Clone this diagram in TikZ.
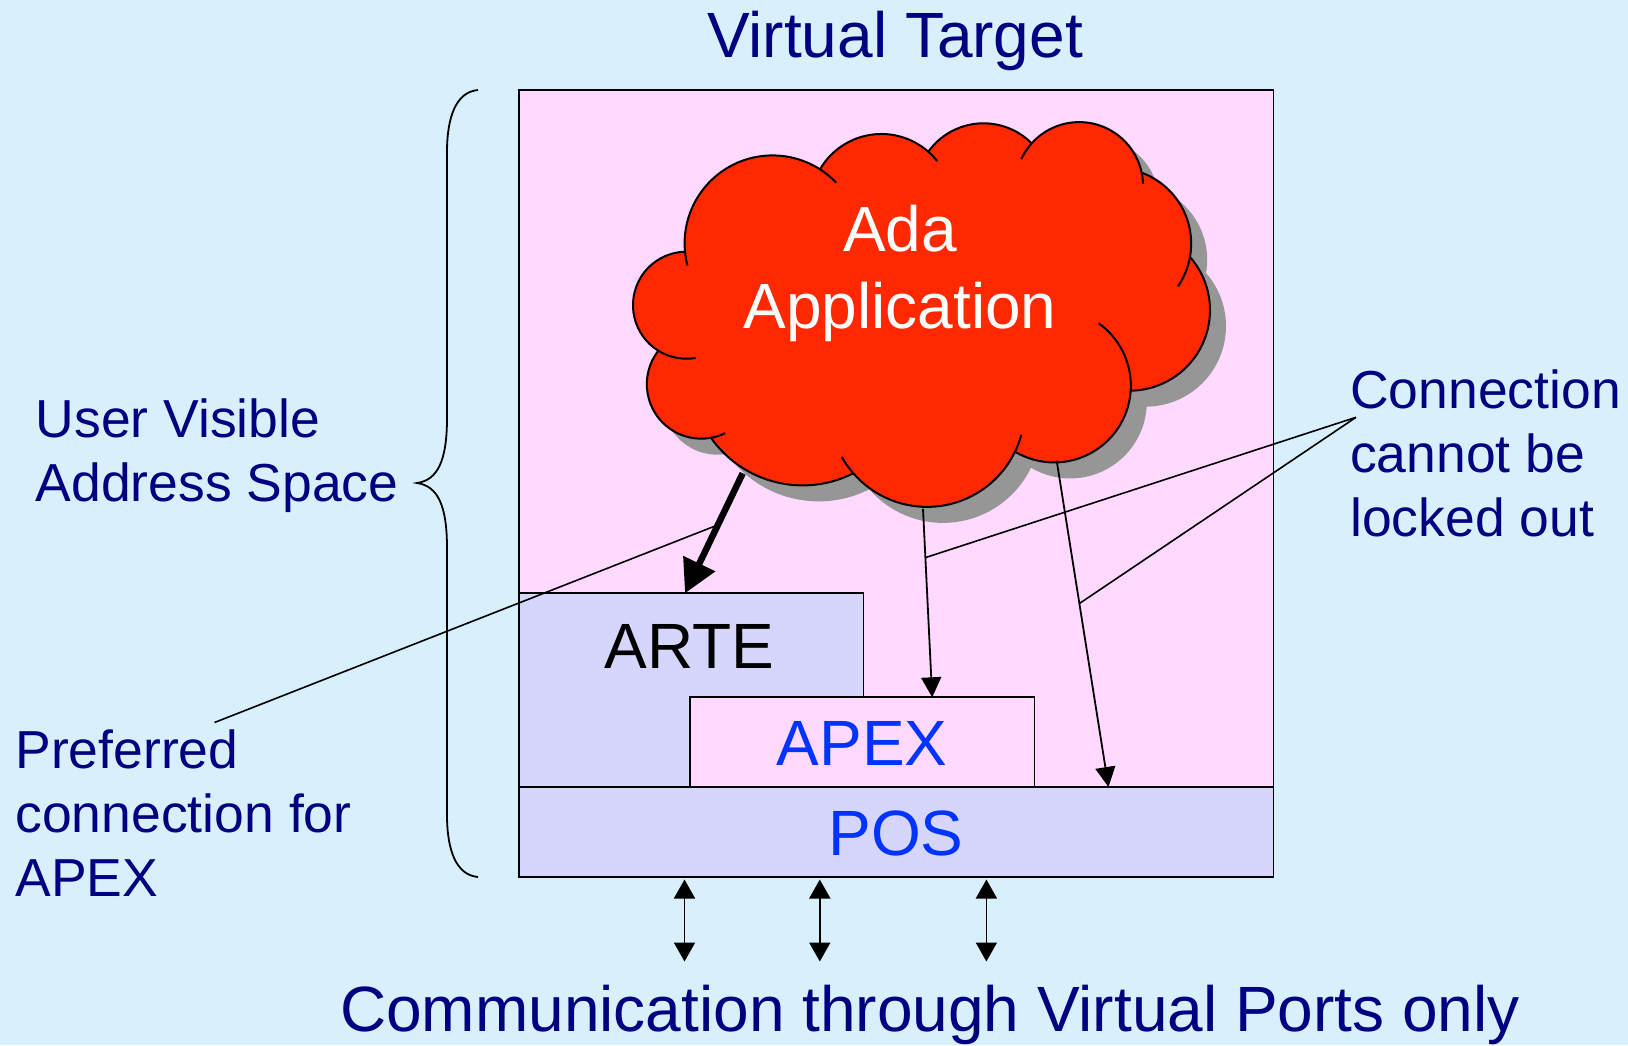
\documentclass[tikz,border=0pt]{standalone}
\usepackage{fontspec}
\setmainfont{Liberation Sans}
\usetikzlibrary{arrows.meta,calc}
\definecolor{bgc}{RGB}{215,240,252}
\definecolor{pinkc}{RGB}{255,217,255}
\definecolor{lavc}{RGB}{214,214,252}
\definecolor{redc}{RGB}{255,40,0}
\definecolor{navyc}{RGB}{0,0,128}
\definecolor{bluec}{RGB}{0,51,255}
\definecolor{shadc}{RGB}{150,150,150}

% circle through three points A=(#2,#3), M=(#4,#5), B=(#6,#7); arc from A to B (clockwise on screen)
\newcommand{\defbump}[7]{%
  \edef\bD{\fpeval{2*((#2)*((#5)-(#7))+(#4)*((#7)-(#3))+(#6)*((#3)-(#5)))}}%
  \edef\bUx{\fpeval{(((#2)^2+(#3)^2)*((#5)-(#7))+((#4)^2+(#5)^2)*((#7)-(#3))+((#6)^2+(#7)^2)*((#3)-(#5)))/\bD}}%
  \edef\bUy{\fpeval{(((#2)^2+(#3)^2)*((#6)-(#4))+((#4)^2+(#5)^2)*((#2)-(#6))+((#6)^2+(#7)^2)*((#4)-(#2)))/\bD}}%
  \expandafter\xdef\csname bump#1r\endcsname{\fpeval{round(sqrt(((#2)-\bUx)^2+((#3)-\bUy)^2),3)}}%
  \edef\bS{\fpeval{atand((#3)-\bUy,(#2)-\bUx)}}%
  \edef\bE{\fpeval{atand((#7)-\bUy,(#6)-\bUx)}}%
  \expandafter\xdef\csname bump#1s\endcsname{\fpeval{round(\bS,3)}}%
  \expandafter\xdef\csname bump#1e\endcsname{\fpeval{round((\bE<\bS) ? \bE+360 : \bE,3)}}%
}
% cusps
\defbump{TL}{685}{251.7}{726.7}{168.3}{820}{169.3}
\defbump{TMA}{820}{169.3}{883.3}{134}{928.3}{151.7}
\defbump{TMB}{928.3}{151.7}{981.7}{123.3}{1031.7}{143.3}
\defbump{TR}{1031.7}{143.3}{1106.7}{128.3}{1141.7}{172.7}
\defbump{RU}{1141.7}{172.7}{1183.3}{210}{1190}{257}
\defbump{RL}{1190}{257}{1209}{323}{1130.7}{390.7}
\defbump{LR}{1130.7}{390.7}{1093.3}{451.7}{1015}{451.7}
\defbump{BM}{1015}{451.7}{953.3}{503.3}{853.3}{473.3}
\defbump{BL}{853.3}{473.3}{793.3}{485}{711}{437.8}
\defbump{LL}{711}{437.8}{653.3}{410}{658.3}{350.7}
\defbump{LU}{658.3}{350.7}{633}{306.7}{685}{251.7}

\newcommand{\cloudoutline}{%
(685,251.7)
arc[start angle=\bumpTLs, end angle=\bumpTLe, radius=\bumpTLr]
arc[start angle=\bumpTMAs, end angle=\bumpTMAe, radius=\bumpTMAr]
arc[start angle=\bumpTMBs, end angle=\bumpTMBe, radius=\bumpTMBr]
arc[start angle=\bumpTRs, end angle=\bumpTRe, radius=\bumpTRr]
arc[start angle=\bumpRUs, end angle=\bumpRUe, radius=\bumpRUr]
arc[start angle=\bumpRLs, end angle=\bumpRLe, radius=\bumpRLr]
arc[start angle=\bumpLRs, end angle=\bumpLRe, radius=\bumpLRr]
arc[start angle=\bumpBMs, end angle=\bumpBMe, radius=\bumpBMr]
arc[start angle=\bumpBLs, end angle=\bumpBLe, radius=\bumpBLr]
arc[start angle=\bumpLLs, end angle=\bumpLLe, radius=\bumpLLr]
arc[start angle=\bumpLUs, end angle=\bumpLUe, radius=\bumpLUr]
-- cycle}

\begin{document}
\begin{tikzpicture}[x=1pt,y=-1pt,
  box/.style={draw=black, line width=1.8pt, inner sep=0pt, outer sep=0pt, anchor=north west},
  big/.style={font=\fontsize{64}{76.8}\selectfont, inner sep=0pt},
  side/.style={font=\fontsize{53.5}{64}\selectfont, text=navyc, align=left, inner sep=0pt},
  thinarrow/.style={line width=1.8pt, -{Triangle[length=20pt,width=20pt]}},
  dblarrow/.style={line width=1.8pt, {Triangle[length=19pt,width=21pt]}-{Triangle[length=19pt,width=21pt]}},
  callout/.style={line width=1.6pt},
  cloudline/.style={line width=2pt, line join=round},
]
\useasboundingbox (0,0) rectangle (1628,1045);
\fill[bgc] (0,0) rectangle (1628,1045);

% boxes
\node[box, fill=pinkc, minimum width=754.5pt, minimum height=787pt] (vt) at (519,90) {};
\node[box, fill=lavc, minimum width=344.5pt, minimum height=193.7pt] (arte) at (519,593.3) {};
\node[box, fill=pinkc, minimum width=344.5pt, minimum height=89.7pt] (apex) at (690,697.3) {};
\node[box, fill=lavc, minimum width=754.5pt, minimum height=90pt] (pos) at (519,787) {};

\node[big, anchor=base] (artel) at (689.5,668.5) {ARTE};
\node[big, text=bluec, anchor=base] (apexl) at (862.2,765.7) {APEX};
\node[big, text=bluec, anchor=base] (posl) at (896,855) {POS};

% cloud
\coordinate (C1) at (685,251.7);
\coordinate (C2) at (820,169.3);
\coordinate (C3) at (928.3,151.7);
\coordinate (C4) at (1031.7,143.3);
\coordinate (C5) at (1141.7,172.7);
\coordinate (C6) at (1190,257);
\coordinate (C7) at (1130.7,390.7);
\coordinate (C8) at (1015,451.7);
\coordinate (C9) at (853.3,473.3);
\coordinate (C10) at (711,437.8);
\coordinate (C11) at (658.3,350.7);
\fill[shadc, shift={(16,16)}] \cloudoutline;
\filldraw[fill=redc, draw=black, cloudline] \cloudoutline;
\draw[cloudline] (C1) arc[start angle=\bumpTLs, delta angle={-57.3*14/\bumpTLr}, radius=\bumpTLr];
\draw[cloudline] (C2) arc[start angle=\bumpTLe, delta angle={57.3*21/\bumpTLr}, radius=\bumpTLr];
\draw[cloudline] (C3) arc[start angle=\bumpTMAe, delta angle={57.3*13/\bumpTMAr}, radius=\bumpTMAr];
\draw[cloudline] (C4) arc[start angle=\bumpTRs, delta angle={-57.3*19/\bumpTRr}, radius=\bumpTRr];
\draw[cloudline] (C5) arc[start angle=\bumpTRe, delta angle={57.3*11/\bumpTRr}, radius=\bumpTRr];
\draw[cloudline] (C6) arc[start angle=\bumpRUe, delta angle={57.3*32/\bumpRUr}, radius=\bumpRUr];
\draw[cloudline] (C7) arc[start angle=\bumpLRs, delta angle={-57.3*78/\bumpLRr}, radius=\bumpLRr];
\draw[cloudline] (C8) arc[start angle=\bumpBMs, delta angle={-57.3*18/\bumpBMr}, radius=\bumpBMr];
\draw[cloudline] (C9) arc[start angle=\bumpBMe, delta angle={57.3*20/\bumpBMr}, radius=\bumpBMr];
\draw[cloudline] (C10) arc[start angle=\bumpLLs, delta angle={-57.3*15/\bumpLLr}, radius=\bumpLLr];
\draw[cloudline] (C11) arc[start angle=\bumpLUs, delta angle={-57.3*39/\bumpLUr}, radius=\bumpLUr];
\node[big, text=white, align=center, anchor=base] (ada) at (900,328.3) {Ada\\Application};

% arrows from the application
\coordinate (hs) at (742.7,473.3);
\coordinate (he) at (685,593.3);
\coordinate (t1s) at (923,508.8);
\coordinate (t1e) at (932.2,697.3);
\coordinate (t2s) at (1056.7,460.7);
\coordinate (t2e) at (1108.5,787);
\draw[line width=6.5pt, -{Triangle[length=33pt,width=34pt]}] (hs) -- (he);
\draw[thinarrow] (t1s) -- (t1e);
\draw[thinarrow] (t2s) -- (t2e);

% callouts
\coordinate (cc) at (1356,417.3);
\coordinate (pc) at (214.5,722.5);
\draw[callout] (cc) -- ($(t1s)!0.259!(t1e)$);
\draw[callout] (cc) -- ($(t2s)!0.4377!(t2e)$);
\draw[callout] (pc) -- ($(hs)!0.43!(he)$);

% brace
\draw[line width=1.8pt] (478,90) .. controls (456,92) and (447,117) .. (447,152)
  -- (447,418) .. controls (447,460) and (438,480) .. (417,483)
  .. controls (438,486) and (447,506) .. (447,548)
  -- (447,815) .. controls (447,850) and (456,875) .. (478,877);

% texts
\node[side, anchor=base west] (uvas) at (35.5,501.7) {User Visible\\Address Space};
\node[side, anchor=base west] (conn) at (1350,536.7) {Connection\\cannot be\\locked out};
\node[side, anchor=base west] (pref) at (15.3,896) {Preferred\\connection for\\APEX};
\node[big, text=navyc, anchor=base] (title) at (895,57.3) {Virtual Target};
\node[big, text=navyc, anchor=base] (ports) at (930,1031) {Communication through Virtual Ports only};

% virtual ports
\foreach \x [count=\i] in {684.5,819.8,986.4} {
  \coordinate (pa\i) at (\x,879.5);
  \coordinate (pb\i) at (\x,961.5);
  \draw[dblarrow] (pa\i) -- (pb\i);
}
\end{tikzpicture}
\end{document}
